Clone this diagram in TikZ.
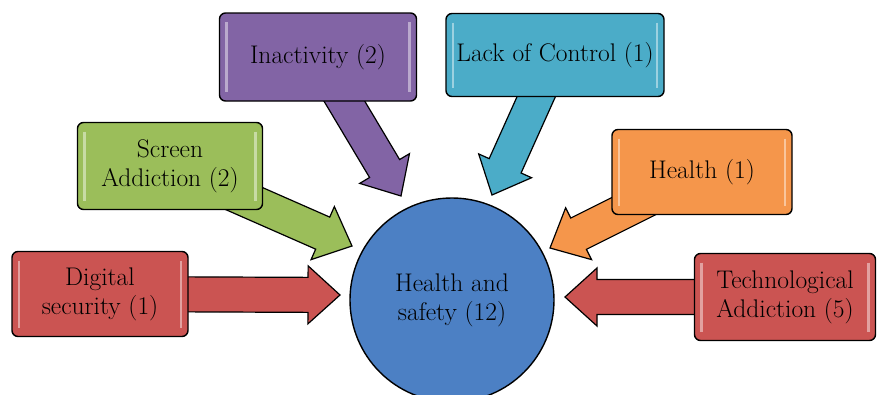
\documentclass[tikz,border=0pt]{standalone}
\usepackage{fontspec}
\usetikzlibrary{calc,backgrounds}
\definecolor{cred}{RGB}{203,84,82}
\definecolor{cgreen}{RGB}{155,190,90}
\definecolor{cpurple}{RGB}{130,100,165}
\definecolor{ccyan}{RGB}{75,172,200}
\definecolor{corange}{RGB}{245,150,75}
\definecolor{cblue}{RGB}{76,128,196}
\tikzset{
  box/.style={draw=black, line width=1.4pt, rounded corners=6pt, align=center,
    font=\fontsize{25.5}{29}\selectfont, inner sep=0pt,
    path picture={
      \draw[white,opacity=.45,line width=2.5pt]
        ($(path picture bounding box.north west)+(7pt,-9pt)$) -- ($(path picture bounding box.south west)+(7pt,9pt)$);
      \draw[white,opacity=.45,line width=2.5pt]
        ($(path picture bounding box.north east)+(-7pt,-9pt)$) -- ($(path picture bounding box.south east)+(-7pt,9pt)$);
    }},
  hub/.style={circle, draw=black, line width=1.4pt, fill=cblue, align=center,
    font=\fontsize{25.5}{29}\selectfont, minimum size=204pt, inner sep=0pt},
  fat/.style={draw=black, line width=1.2pt, line join=miter}
}
\newcommand\fatarrow[3]{%
  \coordinate (tmpH) at ($(#2)!32pt!(#1)$);
  \filldraw[fat, fill=#3]
    ($(#1)!17.5pt!90:(#2)$) -- ($(tmpH)!17.5pt!90:(#2)$) -- ($(tmpH)!29pt!90:(#2)$)
    -- (#2) -- ($(tmpH)!29pt!-90:(#2)$) -- ($(tmpH)!17.5pt!-90:(#2)$)
    -- ($(#1)!17.5pt!-90:(#2)$) -- cycle;
}
\begin{document}
\begin{tikzpicture}[x=1pt,y=-1pt]
\useasboundingbox (0,0) rectangle (879,394);
\clip (0,0) rectangle (879,394);
\node[hub] (hs) at (452,300) {Health and\\safety (12)};
\node[box, fill=cred, minimum width=176pt, minimum height=85pt] (ds) at (100,294) {Digital\\security (1)};
\node[box, fill=cgreen, minimum width=185pt, minimum height=87pt] (sa) at (170,166) {Screen\\Addiction (2)};
\node[box, fill=cpurple, minimum width=197pt, minimum height=88pt] (in) at (318,57) {Inactivity (2)};
\node[box, fill=ccyan, minimum width=218pt, minimum height=83pt] (lc) at (555,55) {Lack of Control (1)};
\node[box, fill=corange, minimum width=180pt, minimum height=85pt] (he) at (702,172) {Health (1)};
\node[box, fill=cred, minimum width=181pt, minimum height=87pt] (ta) at (785,297) {Technological\\Addiction (5)};
\coordinate (t1) at (340,295);
\coordinate (t2) at (352,246);
\coordinate (t3) at (401,196);
\coordinate (t4) at (492,195);
\coordinate (t5) at (550,248);
\coordinate (t6) at (565,297);
\begin{scope}[on background layer]
\fatarrow{ds}{t1}{cred}
\fatarrow{sa}{t2}{cgreen}
\fatarrow{in}{t3}{cpurple}
\fatarrow{lc}{t4}{ccyan}
\fatarrow{he}{t5}{corange}
\fatarrow{ta}{t6}{cred}
\end{scope}
\end{tikzpicture}
\end{document}
